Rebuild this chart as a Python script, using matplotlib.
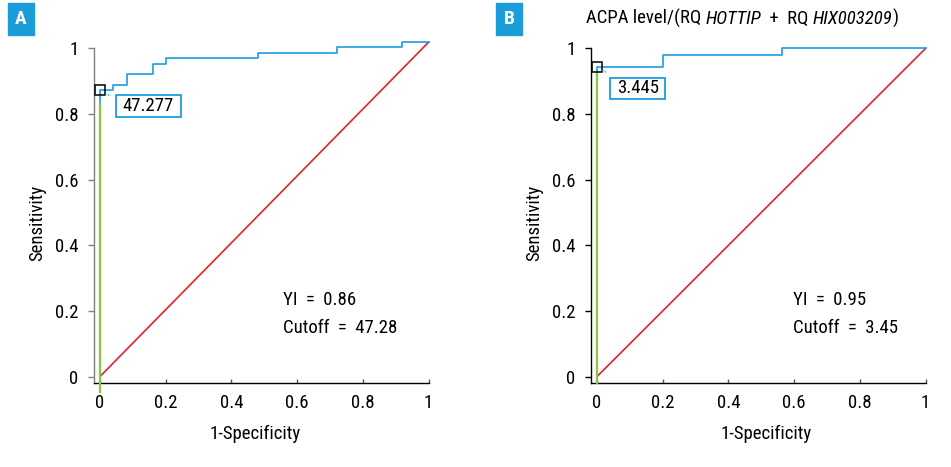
import matplotlib
matplotlib.use("Agg")
import matplotlib.pyplot as plt
from matplotlib.patches import Rectangle

plt.rcParams['font.family'] = ['Roboto Condensed', 'Roboto', 'DejaVu Sans']
plt.rcParams['font.stretch'] = 'condensed'

# ---- data ----
ticks = [0, 0.2, 0.4, 0.6, 0.8, 1.0]
tick_labels = ['0', '0.2', '0.4', '0.6', '0.8', '1']

# Panel A ROC (step curve)
fpr_a = [0.0, 0.0, 0.04, 0.04, 0.082, 0.082, 0.16, 0.16, 0.20, 0.20, 0.48, 0.48, 0.72, 0.72, 0.92, 0.92, 1.0]
tpr_a = [0.0, 0.873, 0.873, 0.889, 0.889, 0.921, 0.921, 0.953, 0.953, 0.970, 0.970, 0.986, 0.986, 1.004, 1.004, 1.019, 1.019]
diag_a_x = [0.0, 1.0]
diag_a_y = [0.0, 1.019]
cut_a = (0.0, 0.873)
cut_a_label = '47.277'
yi_a = 'YI\u2002=\u20020.86'
cutoff_a = 'Cutoff\u2002=\u200247.28'
green_a = ([0.0, 0.0], [-0.047, 0.83])

# Panel B ROC
fpr_b = [0.0, 0.0, 0.20, 0.20, 0.563, 0.563, 1.0]
tpr_b = [0.0, 0.945, 0.945, 0.98, 0.98, 1.0, 1.0]
diag_b_x = [0.0, 1.0]
diag_b_y = [0.0, 1.0]
cut_b = (0.0, 0.945)
cut_b_label = '3.445'
yi_b = 'YI\u2002=\u20020.95'
cutoff_b = 'Cutoff\u2002=\u20023.45'
green_b = ([0.0, 0.0], [-0.0198, 0.925])

BLUE = '#1b9de0'
RED = '#e8202a'
GREEN = '#8cc63f'
PANEL = '#1a9dd9'
FS = 13.5

W, H = 951, 467
fig = plt.figure(figsize=(W / 100, H / 100), dpi=100)


def make_ax(left_px, spine_col, xlab_x):
    ax = fig.add_axes([left_px / W, (H - 383) / H, 334.5 / W, 334.5 / H])
    ax.set_xlim(-6.0 / 328, 1.0)
    ax.set_ylim(-6.5 / 328, 1.0)
    for s in ['top', 'right']:
        ax.spines[s].set_visible(False)
    ax.spines['left'].set_color(spine_col)
    ax.spines['bottom'].set_color('black')
    ax.spines['left'].set_linewidth(1.0)
    ax.spines['bottom'].set_linewidth(1.0)
    ax.set_xticks(ticks)
    ax.set_xticklabels(tick_labels)
    ax.set_yticks(ticks)
    ax.set_yticklabels(tick_labels)
    ax.tick_params(axis='y', direction='out', length=4, width=1, color=spine_col,
                   labelsize=FS, pad=7)
    ax.tick_params(axis='x', direction='in', length=3, width=1, color='#555555',
                   labelsize=FS, pad=8)
    ax.set_xlabel('1-Specificity', fontsize=FS, va='top')
    ax.xaxis.set_label_coords(xlab_x, -0.125)
    ax.set_ylabel('Sensitivity', fontsize=FS, va='center')
    ax.yaxis.set_label_coords(-0.169, 0.478)
    return ax


def draw_panel(ax, fx, ty, dx, dy, green, cut, lab, box, yi, cutoff, text_x, conn):
    ax.plot(dx, dy, color=RED, lw=1.2, clip_on=False, zorder=2)
    ax.plot(green[0], green[1], color=GREEN, lw=1.6, clip_on=False, zorder=4)
    ax.plot(fx, ty, color=BLUE, lw=1.2, clip_on=False, zorder=3)
    ax.plot([cut[0]], [cut[1]], marker='s', ms=6.5, mfc='none', mec='black', mew=1.1,
            clip_on=False, zorder=5)
    ax.plot(conn[0], conn[1], color=BLUE, lw=1.0, ls=(0, (1, 1)), clip_on=False, zorder=5)
    x0, x1, y0, y1 = box
    ax.add_patch(Rectangle((x0, y0), x1 - x0, y1 - y0, fc='white', ec=BLUE, lw=1.3,
                           zorder=6, clip_on=False))
    ax.text((x0 + x1) / 2, (y0 + y1) / 2, lab, fontsize=FS, ha='center', va='center',
            zorder=7)
    ax.text(text_x, 0.218, yi, fontsize=FS, ha='left', va='baseline')
    ax.text(text_x, 0.133, cutoff, fontsize=FS, ha='left', va='baseline')


axA = make_ax(94, '#808080', 0.482)
draw_panel(axA, fpr_a, tpr_a, diag_a_x, diag_a_y, green_a, cut_a, cut_a_label,
           (0.048, 0.246, 0.792, 0.858), yi_a, cutoff_a, 0.557,
           ([0.016, 0.033], [0.862, 0.856]))

axB = make_ax(591, 'black', 0.525)
draw_panel(axB, fpr_b, tpr_b, diag_b_x, diag_b_y, green_b, cut_b, cut_b_label,
           (0.040, 0.208, 0.846, 0.911), yi_b, cutoff_b, 0.596,
           ([0.016, 0.030], [0.934, 0.926]))

# panel letters
for x0, letter in [(8, 'A'), (496, 'B')]:
    fig.patches.append(Rectangle((x0 / W, (H - 35) / H), 26 / W, 32 / H,
                                 transform=fig.transFigure, color=PANEL, zorder=10))
    fig.text((x0 + 13) / W, (H - 19) / H, letter, color='white', fontsize=14,
             fontweight='bold', ha='center', va='center', zorder=11)

# title for panel B with italic gene names
pieces = [('ACPA level/(RQ ', 'normal'), ('HOTTIP', 'italic'), ('\u2002+\u2002RQ ', 'normal'),
          ('HIX003209', 'italic'), (')', 'normal')]
renderer = fig.canvas.get_renderer()
x = 586.0
for txt, style in pieces:
    t = fig.text(x / W, (H - 24) / H, txt, fontsize=FS, style=style,
                 ha='left', va='baseline')
    bb = t.get_window_extent(renderer=renderer)
    x += bb.width

fig.savefig('out.png', dpi=100)
